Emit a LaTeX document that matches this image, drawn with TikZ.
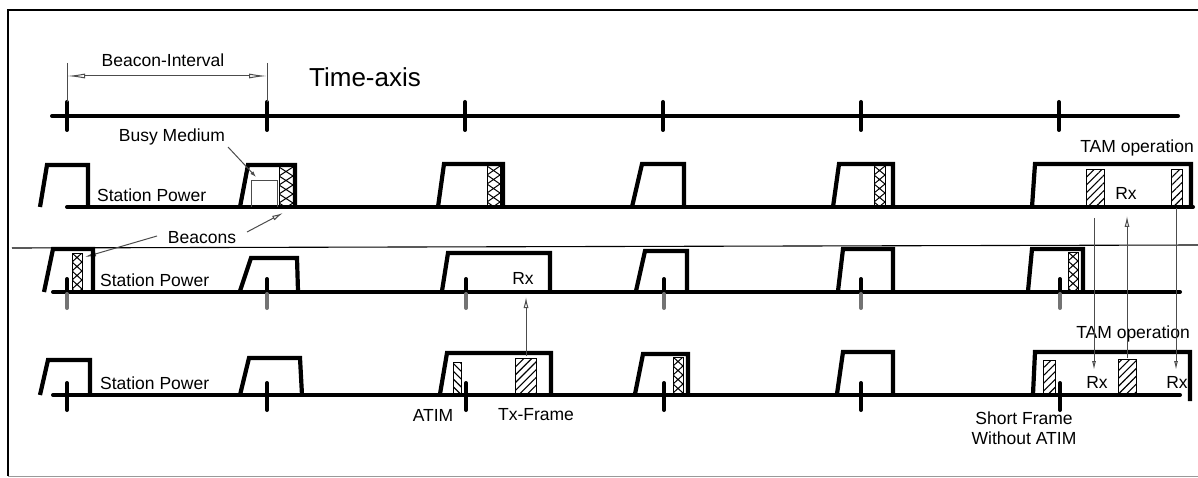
\documentclass[tikz,border=0pt]{standalone}
\usepackage{fontspec}
\setmainfont{Liberation Sans}
\usetikzlibrary{arrows.meta,patterns.meta}
\newcommand\xstrip[4]{%
  \begin{scope}
    \clip (#1,#3) rectangle (#2,#4);
    \foreach \k in {0,...,5}{%
      \draw[xline] (#1,{#3+\k*9}) -- (#2,{#3+\k*9+9}) (#2,{#3+\k*9}) -- (#1,{#3+\k*9+9});
    }
  \end{scope}
  \draw[xline] (#1,#3) rectangle (#2,#4);
}
\newcommand\hstrip[5]{%
  \draw[line width=1pt,pattern={Lines[angle=#5,distance=5.5pt,line width=1.1pt]}] (#1,#3) rectangle (#2,#4);
}
\begin{document}
\begin{tikzpicture}[x=1pt,y=-1pt,
  pulse/.style={line width=4.2pt,line join=miter},
  base/.style={line width=4pt,line cap=round},
  tickmark/.style={line width=4pt,line cap=round},
  xline/.style={line width=1pt},
  thinl/.style={line width=1pt,draw=black!70},
  lbl/.style={font=\fontsize{17.5}{20}\selectfont,inner sep=0pt},
  oarrow/.style={-{Latex[open,length=11pt,width=5pt]}},
  sarrow/.style={-{Latex[open,length=9pt,width=4pt]}}
]
\useasboundingbox (0,0) rectangle (1198,478);
% frame
\draw[line width=2.2pt] (1198,10) -- (8,10) -- (8,476);
\draw[black!40,line width=1pt] (8,476) -- (1198,476);
% separator
\draw[line width=1.1pt] (12,248) -- (1198,245);

% time axis
\draw[base] (52,116) -- (1178,116);
\foreach \x in {67,267,465,663,861,1059}{\draw[tickmark] (\x,102) -- (\x,130);}
\node[lbl,font=\fontsize{26}{30}\selectfont] (taxis) at (365,77) {Time-axis};

% beacon interval
\coordinate (bia) at (67,76);
\coordinate (bib) at (267,76);
\draw[thinl] (67,63) -- (67,102) (267,63) -- (267,102);
\draw[thinl,{Latex[open,length=18pt,width=5pt]}-{Latex[open,length=18pt,width=5pt]}] (bia) -- (bib);
\node[lbl] (bilbl) at (163,60) {Beacon-Interval};

% ---------- row 1 ----------
\draw[base] (67,207) -- (1193,207);
\draw[pulse] (40,207) -- (47,165) -- (88,165) -- (88,207);
\draw[pulse] (240,207) -- (248,165) -- (295,165) -- (295,207);
\draw[pulse] (438,207) -- (444,164) -- (503,164) -- (503,207);
\draw[pulse] (632,207) -- (642,164) -- (684,164) -- (684,207);
\draw[pulse] (833,207) -- (839,164) -- (893,164) -- (893,207);
\draw[pulse] (1032,207) -- (1035,164) -- (1191,164) -- (1191,207);
\draw[thinl] (251,207) -- (251,181) -- (277,181) -- (277,207);
\xstrip{279}{293}{167}{207}
\xstrip{487}{500}{166}{207}
\xstrip{874}{885}{166}{207}
\hstrip{1086}{1104}{170}{207}{45}
\hstrip{1171}{1182}{170}{207}{45}
\node[lbl,anchor=west] (sp1) at (97,195) {Station Power};
\node[lbl] (busy) at (172,137) {Busy Medium};
\coordinate (busytip) at (256,177);
\draw[thinl,-{Latex[length=6pt,width=4pt]}] (228,147) -- (busytip);
\node[lbl] (rx1) at (1126,193) {Rx};
\node[lbl] (tam1) at (1137,148) {TAM operation};

% beacons
\node[lbl] (beacons) at (202,238) {Beacons};
\coordinate (bcl) at (85,257);
\coordinate (bcr) at (283,213);
\draw[thinl,oarrow] (157,236) -- (bcl);
\draw[thinl,oarrow] (247,232) -- (bcr);

% ---------- row 2 ----------
\draw[base] (53,292) -- (1180,292);
\draw[pulse] (44,292) -- (53,249) -- (93,249) -- (93,292);
\draw[pulse] (240,291) -- (251,258) -- (297,258) -- (298,291);
\draw[pulse] (442,291) -- (448,253) -- (550,253) -- (550,291);
\draw[pulse] (636,291) -- (645,251) -- (687,251) -- (687,291);
\draw[pulse] (838,291) -- (843,249) -- (893,249) -- (893,291);
\draw[pulse] (1028,291) -- (1032,249) -- (1083,249) -- (1083,291);
\xstrip{72}{82}{253}{291}
\xstrip{1068}{1078}{252}{291}
\foreach \x in {67,267,466,664,861,1060}{
  \draw[tickmark] (\x,279) -- (\x,292);
  \draw[tickmark,black!55] (\x,294) -- (\x,308);
}
\node[lbl,anchor=west] (sp2) at (100,280) {Station Power};
\node[lbl] (rx2) at (523,278) {Rx};

% ---------- row 3 ----------
\draw[base] (53,395) -- (1180,395);
\draw[pulse] (40,395) -- (48,360) -- (90,360) -- (90,395);
\draw[pulse] (240,395) -- (249,358) -- (300,358) -- (302,395);
\draw[pulse] (440,394) -- (447,353) -- (551,353) -- (551,394);
\draw[pulse] (635,394) -- (643,354) -- (688,354) -- (688,394);
\draw[pulse] (837,394) -- (843,352) -- (893,352) -- (893,394);
\draw[pulse] (1033,394) -- (1035,352) -- (1190,352) -- (1190,401);
\hstrip{453}{461}{362}{394}{-45}
\hstrip{515}{536}{358}{394}{45}
\xstrip{673}{683}{357}{394}
\hstrip{1043}{1055}{360}{394}{45}
\hstrip{1118}{1136}{359}{394}{45}
\foreach \x in {67,267,466,664,861,1060}{\draw[tickmark] (\x,383) -- (\x,410);}
\node[lbl,anchor=west] (sp3) at (100,383) {Station Power};
\node[lbl] (atim) at (433,415) {ATIM};
\node[lbl] (txf) at (536,415) {Tx-Frame};
\node[lbl] (rx3a) at (1097,382) {Rx};
\node[lbl] (rx3b) at (1177,382) {Rx};
\node[lbl] (tam2) at (1133,334) {TAM operation};
\node[lbl,align=center] (short) at (1024,428) {Short Frame\\Without ATIM};

% Tx -> Rx arrow
\coordinate (txtop) at (526,356);
\coordinate (rxbot) at (526,297);
\draw[thinl,oarrow] (txtop) -- (rxbot);

% TAM arrows
\coordinate (ta1) at (1094,218);
\coordinate (tb1) at (1094,370);
\coordinate (ta2) at (1127,358);
\coordinate (tb2) at (1127,216);
\coordinate (ta3) at (1176,208);
\coordinate (tb3) at (1176,370);
\draw[thinl,sarrow] (ta1) -- (tb1);
\draw[thinl,oarrow] (ta2) -- (tb2);
\draw[thinl,sarrow] (ta3) -- (tb3);
\end{tikzpicture}
\end{document}
